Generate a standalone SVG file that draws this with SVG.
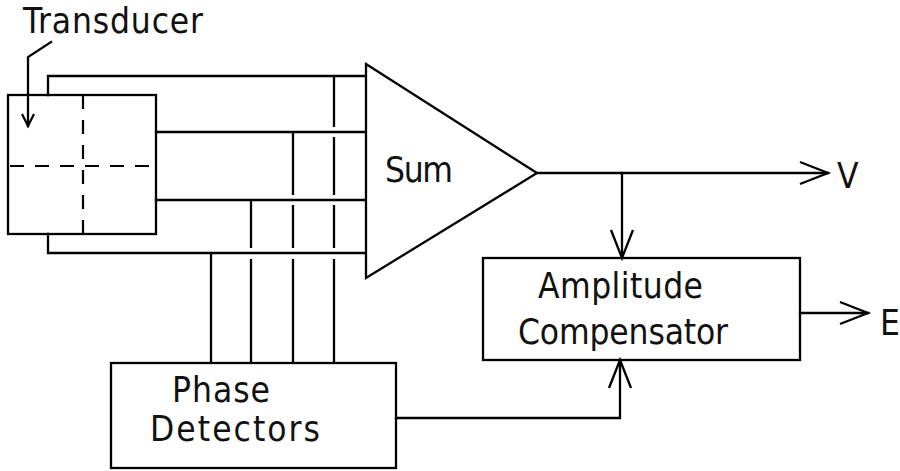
<svg xmlns="http://www.w3.org/2000/svg" width="900" height="471" viewBox="0 0 900 471">
<style>
.ln{fill:none;stroke:#000;stroke-width:2.3;stroke-linecap:square;stroke-linejoin:miter}
.vg{fill:none;stroke:#000;stroke-width:2.3;stroke-linecap:butt}
.dash{fill:none;stroke:#000;stroke-width:2.2;stroke-dasharray:14 11}
.box{fill:none;stroke:#000;stroke-width:2.3}
.t{font-family:"DejaVu Sans Condensed","Liberation Sans Narrow","DejaVu Sans",sans-serif;font-size:35px;fill:#111}
</style>
<defs>
<marker id="ah" viewBox="0 0 30 26" refX="29" refY="12" markerWidth="30" markerHeight="26" markerUnits="userSpaceOnUse" orient="auto" overflow="visible">
<path d="M1,1 L29,12 L1,23" fill="none" stroke="#000" stroke-width="2.3"/>
</marker>
<marker id="ahs" viewBox="0 0 14 16" refX="13" refY="7" markerWidth="14" markerHeight="16" markerUnits="userSpaceOnUse" orient="auto" overflow="visible">
<path d="M1,1 L13,7 L1,13" fill="none" stroke="#000" stroke-width="2.2"/>
</marker>
</defs>
<rect width="900" height="471" fill="#fff"/>

<g id="transducer">
<rect class="box" x="8" y="95" width="148" height="139"/>
<line class="dash" x1="83" y1="95" x2="83" y2="234"/>
<line class="dash" x1="10" y1="166" x2="154" y2="166"/>
<text class="t" x="23" y="33" textLength="180" lengthAdjust="spacing">Transducer</text>
<polyline class="ln" points="51,42 28,57 28,126" marker-end="url(#ahs)"/>
</g>

<g id="sum">
<polygon class="box" points="366,64 537,173 366,278"/>
<text class="t" x="385" y="182" textLength="68" lengthAdjust="spacing">Sum</text>
</g>

<g id="amplitude-compensator">
<rect class="box" x="483" y="258" width="317" height="102"/>
<text class="t" x="538" y="298" textLength="165" lengthAdjust="spacing">Amplitude</text>
<text class="t" x="518" y="344" textLength="210" lengthAdjust="spacing">Compensator</text>
</g>

<g id="phase-detectors">
<rect class="box" x="111" y="363" width="285" height="105"/>
<text class="t" x="172" y="402" textLength="98" lengthAdjust="spacing">Phase</text>
<text class="t" x="150" y="441" textLength="170" lengthAdjust="spacing">Detectors</text>
</g>

<g id="output-v">
<text class="t" x="837" y="188">V</text>
</g>
<g id="output-e">
<text class="t" x="880" y="335">E</text>
</g>

<g id="connectors">
<polyline class="ln" points="48,95 48,76 365,76"/>
<polyline class="ln" points="48,234 48,253 365,253"/>
<line class="ln" x1="156" y1="132" x2="365" y2="132"/>
<line class="ln" x1="156" y1="200" x2="365" y2="200"/>
<line class="vg" x1="334" y1="76" x2="334" y2="127"/>
<line class="vg" x1="334" y1="137" x2="334" y2="195"/>
<line class="vg" x1="334" y1="205" x2="334" y2="248"/>
<line class="vg" x1="334" y1="259" x2="334" y2="363"/>
<line class="vg" x1="293" y1="132" x2="293" y2="195"/>
<line class="vg" x1="293" y1="205" x2="293" y2="248"/>
<line class="vg" x1="293" y1="259" x2="293" y2="363"/>
<line class="vg" x1="251" y1="200" x2="251" y2="248"/>
<line class="vg" x1="251" y1="259" x2="251" y2="363"/>
<line class="vg" x1="211" y1="253" x2="211" y2="363"/>
<line class="ln" x1="537" y1="173" x2="828" y2="173" marker-end="url(#ah)"/>
<line class="ln" x1="622" y1="173" x2="622" y2="258" marker-end="url(#ah)"/>
<line class="ln" x1="800" y1="313" x2="868" y2="313" marker-end="url(#ah)"/>
<polyline class="ln" points="396,418 620,418 620,360" marker-end="url(#ah)"/>
</g>
</svg>
